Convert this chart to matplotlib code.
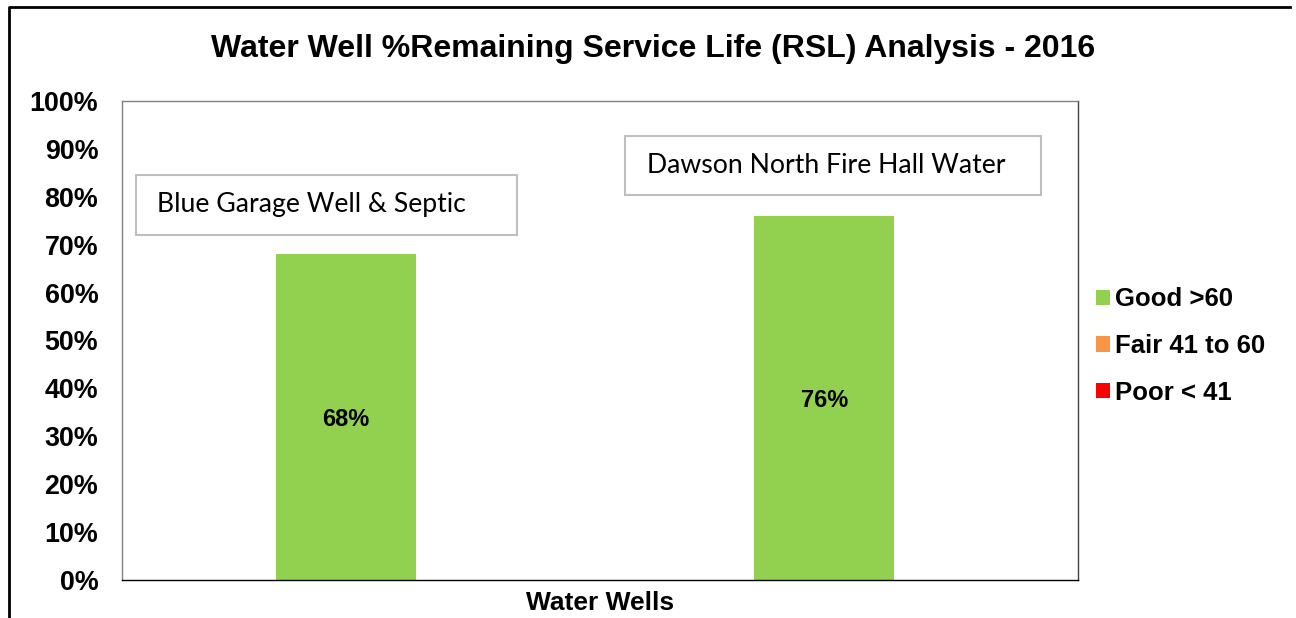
import matplotlib.pyplot as plt
from matplotlib.patches import Patch, Rectangle
from matplotlib.lines import Line2D

plt.rcParams['font.family'] = ['Liberation Sans', 'DejaVu Sans']

wells = ["Blue Garage Well & Septic", "Dawson North Fire Hall Water"]
rsl = [68, 76]
legend_labels = ["Good >60", "Fair 41 to 60", "Poor < 41"]
legend_colors = ["#92D050", "#F79646", "#FF0000"]
yticks = list(range(0, 101, 10))

fig = plt.figure(figsize=(12.96, 6.18), dpi=100)
ax = fig.add_axes([0.0941, 0.0615, 0.7377, 0.7751])

xpos = list(range(len(wells)))
ax.bar(xpos, rsl, width=0.293, color="#92D050", zorder=2)
for x, v in zip(xpos, rsl):
    ax.text(x, v / 2 - 0.5, f"{v}%", ha="center", va="center",
            fontsize=17, fontweight="bold")

ax.set_xlim(-0.469, 1.531)
ax.set_ylim(0, 100)
ax.set_yticks(yticks)
ax.set_yticklabels([f"{t}%" for t in yticks], fontsize=19.4, fontweight="bold")
ax.set_xticks([])
ax.tick_params(axis="y", length=0, pad=17)
ax.set_xlabel("Water Wells", fontsize=19, fontweight="bold", labelpad=8)

ax.spines["left"].set_color("#808080")
ax.spines["top"].set_color("#808080")
ax.spines["right"].set_color("#404040")
ax.spines["bottom"].set_color("black")
for s in ax.spines.values():
    s.set_linewidth(1)

# label boxes
boxes = [(0.0146, 0.7203, 0.3985, 0.1253, 0.0366, 0.7829),
         (0.5262, 0.8038, 0.4351, 0.1232, 0.549, 0.8653)]
for name, (bx, by, bw, bh, tx, ty) in zip(wells, boxes):
    ax.add_patch(Rectangle((bx, by), bw, bh, transform=ax.transAxes,
                           facecolor="white", edgecolor="#BFBFBF",
                           linewidth=1.5, clip_on=False, zorder=3))
    ax.text(tx, ty, name, transform=ax.transAxes, ha="left", va="center",
            fontsize=19.2, family=["Lato", "DejaVu Sans"], zorder=4)

fig.text(0.504, 0.921, "Water Well %Remaining Service Life (RSL) Analysis - 2016",
         ha="center", va="center", fontsize=23, fontweight="bold")

handles = [Patch(facecolor=c, edgecolor="none") for c in legend_colors]
leg = fig.legend(handles, legend_labels, loc="center left",
                 bbox_to_anchor=(0.828, 0.440), frameon=False,
                 prop={"size": 18.5, "weight": "bold"},
                 handlelength=0.55, handleheight=0.55, handletextpad=0.2,
                 labelspacing=0.88)

# outer border (left and top only)
fig.add_artist(Line2D([9 / 1296, 9 / 1296, 1290 / 1296],
                      [0, 1 - 7 / 618, 1 - 7 / 618],
                      transform=fig.transFigure, color="black", linewidth=2))

fig.savefig("out.png", dpi=100)
